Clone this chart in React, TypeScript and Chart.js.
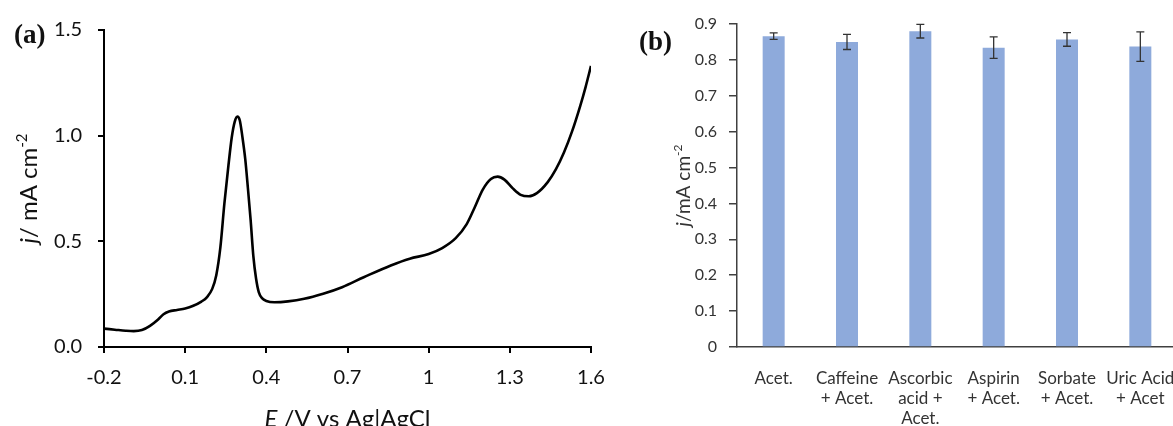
import React, { useEffect, useRef } from "react";
import { Chart, registerables } from "chart.js";

Chart.register(...registerables);

// (a) Linear sweep voltammogram: potential (V vs Ag|AgCl) and current density (mA cm-2)
const potentialV = [
  -0.2, -0.16, -0.12, -0.09, -0.06, -0.03, 0.0, 0.02, 0.04, 0.07, 0.1, 0.13, 0.16, 0.18, 0.2,
  0.215, 0.23, 0.245, 0.26, 0.272, 0.283, 0.293, 0.302, 0.312, 0.322, 0.332, 0.342, 0.352,
  0.362, 0.372, 0.385, 0.4, 0.43, 0.48, 0.54, 0.61, 0.68, 0.76, 0.86, 0.93, 1.0, 1.05, 1.1,
  1.14, 1.17, 1.2, 1.23, 1.255, 1.28, 1.31, 1.34, 1.37, 1.4, 1.44, 1.47, 1.5, 1.53, 1.56, 1.58, 1.6,
];
const currentDensity = [
  0.087, 0.082, 0.077, 0.075, 0.08, 0.1, 0.13, 0.155, 0.168, 0.175, 0.182, 0.195, 0.215, 0.235, 0.275,
  0.34, 0.47, 0.68, 0.86, 0.99, 1.065, 1.09, 1.072, 0.99, 0.89, 0.75, 0.6, 0.43,
  0.324, 0.26, 0.23, 0.218, 0.212, 0.216, 0.228, 0.252, 0.283, 0.33, 0.386, 0.418, 0.44, 0.468, 0.515,
  0.58, 0.66, 0.745, 0.795, 0.806, 0.792, 0.752, 0.72, 0.713, 0.728, 0.78, 0.84, 0.92, 1.02, 1.14, 1.23, 1.33,
];
const potentialTicks = [-0.2, 0.1, 0.4, 0.7, 1, 1.3, 1.6];
const currentTicks = [0, 0.5, 1.0, 1.5];

// (b) Acetaminophen peak current with interferents (mean and error)
const interferentLabels = [
  ["Acet."],
  ["Caffeine", "+ Acet."],
  ["Ascorbic", "acid +", "Acet."],
  ["Aspirin", "+ Acet."],
  ["Sorbate", "+ Acet."],
  ["Uric Acid", "+ Acet"],
];
const peakCurrent = [0.866, 0.85, 0.88, 0.834, 0.857, 0.837];
const peakCurrentError = [0.009, 0.021, 0.019, 0.03, 0.019, 0.041];
const peakTicks = [0, 0.1, 0.2, 0.3, 0.4, 0.5, 0.6, 0.7, 0.8, 0.9];

type Seg = { text: string; italic?: boolean; sup?: boolean };

const SANS = "Lato, 'Open Sans', sans-serif";
const SERIF = "'Liberation Serif', 'DejaVu Serif', serif";

// Draws a run of text segments (italic / superscript aware), centred on (x, y).
function drawRich(
  ctx: CanvasRenderingContext2D,
  segs: Seg[],
  x: number,
  y: number,
  size: number,
  color: string,
  rotation: number
) {
  ctx.save();
  ctx.translate(x, y);
  ctx.rotate(rotation);
  ctx.fillStyle = color;
  ctx.textBaseline = "alphabetic";
  ctx.textAlign = "left";
  const fontFor = (s: Seg) =>
    `${s.italic ? "italic " : ""}${s.sup ? Math.round(size * 0.62) : size}px ${SANS}`;
  let total = 0;
  const widths = segs.map((s) => {
    ctx.font = fontFor(s);
    const w = ctx.measureText(s.text).width;
    total += w;
    return w;
  });
  let cx = -total / 2;
  const base = size * 0.36;
  segs.forEach((s, i) => {
    ctx.font = fontFor(s);
    ctx.fillText(s.text, cx, s.sup ? base - size * 0.42 : base);
    cx += widths[i];
  });
  ctx.restore();
}

function drawPanelTag(ctx: CanvasRenderingContext2D, tag: string, left: number, cy: number) {
  ctx.save();
  ctx.font = `bold 27px ${SERIF}`;
  ctx.fillStyle = "#111";
  ctx.textAlign = "left";
  ctx.textBaseline = "middle";
  ctx.fillText(tag, left, cy);
  ctx.restore();
}

function VoltammogramPanel() {
  const ref = useRef<HTMLCanvasElement>(null);
  useEffect(() => {
    const points = potentialV.map((e, i) => ({ x: e, y: currentDensity[i] }));
    const chart = new Chart(ref.current as HTMLCanvasElement, {
      type: "line",
      data: {
        datasets: [
          {
            data: points,
            borderColor: "#000",
            borderWidth: 2.6,
            pointRadius: 0,
            cubicInterpolationMode: "monotone",
            fill: false,
          },
        ],
      },
      options: {
        responsive: false,
        animation: false,
        layout: { padding: { top: 30, right: 34, left: 0, bottom: 0 } },
        plugins: { legend: { display: false }, tooltip: { enabled: false } },
        scales: {
          x: {
            type: "linear",
            min: -0.2,
            max: 1.6,
            afterBuildTicks: (s: any) => {
              s.ticks = potentialTicks.map((v) => ({ value: v }));
            },
            afterFit: (s: any) => {
              s.height = 79;
            },
            ticks: {
              color: "#111",
              font: { family: SANS, size: 20 },
              padding: 13,
              maxRotation: 0,
              callback: (v: any) => String(v),
            },
            grid: { drawOnChartArea: false, tickLength: 6, color: "#000", lineWidth: 2 },
            border: { color: "#000", width: 2 },
          },
          y: {
            type: "linear",
            min: 0,
            max: 1.5,
            afterBuildTicks: (s: any) => {
              s.ticks = currentTicks.map((v) => ({ value: v }));
            },
            afterFit: (s: any) => {
              s.width = 104;
            },
            ticks: {
              color: "#111",
              font: { family: SANS, size: 20 },
              padding: 16,
              callback: (v: any) => Number(v).toFixed(1),
            },
            grid: { drawOnChartArea: false, tickLength: 6, color: "#000", lineWidth: 2 },
            border: { color: "#000", width: 2 },
          },
        },
      },
      plugins: [
        {
          id: "voltammogramTexts",
          afterDraw(c: any) {
            const ctx = c.ctx as CanvasRenderingContext2D;
            const area = c.chartArea;
            drawRich(
              ctx,
              [{ text: "E", italic: true }, { text: " /V vs Ag|AgCl" }],
              (area.left + area.right) / 2,
              418,
              24,
              "#111",
              0
            );
            drawRich(
              ctx,
              [{ text: "j", italic: true }, { text: "/ mA cm" }, { text: "-2", sup: true }],
              28,
              (area.top + area.bottom) / 2,
              24,
              "#111",
              -Math.PI / 2
            );
            drawPanelTag(ctx, "(a)", 14, 36);
          },
        },
      ],
    } as any);
    return () => chart.destroy();
  }, []);
  return (
    <canvas
      ref={ref}
      width={625}
      height={426}
      style={{ position: "absolute", left: 0, top: 0, width: 625, height: 426 }}
    />
  );
}

function InterferencePanel() {
  const ref = useRef<HTMLCanvasElement>(null);
  useEffect(() => {
    const chart = new Chart(ref.current as HTMLCanvasElement, {
      type: "bar",
      data: {
        labels: interferentLabels,
        datasets: [
          {
            data: peakCurrent,
            backgroundColor: "#8eaadb",
            barPercentage: 0.3,
            categoryPercentage: 1,
          },
        ],
      },
      options: {
        responsive: false,
        animation: false,
        layout: { padding: { top: 24, right: 13, left: 0, bottom: 0 } },
        plugins: { legend: { display: false }, tooltip: { enabled: false } },
        scales: {
          x: {
            afterFit: (s: any) => {
              s.height = 79;
            },
            ticks: {
              color: "#333",
              font: { family: SANS, size: 17 },
              padding: 13,
              maxRotation: 0,
              autoSkip: false,
            },
            grid: { display: false },
            border: { color: "#404040", width: 1.5 },
          },
          y: {
            min: 0,
            max: 0.9,
            afterBuildTicks: (s: any) => {
              s.ticks = peakTicks.map((v) => ({ value: v }));
            },
            afterFit: (s: any) => {
              s.width = 112;
            },
            ticks: {
              color: "#333",
              font: { family: SANS, size: 16 },
              padding: 12,
              callback: (v: any) => String(v),
            },
            grid: { drawOnChartArea: false, tickLength: 8, color: "#404040", lineWidth: 1.5 },
            border: { color: "#404040", width: 1.5 },
          },
        },
      },
      plugins: [
        {
          id: "errorBars",
          afterDatasetsDraw(c: any) {
            const ctx = c.ctx as CanvasRenderingContext2D;
            const meta = c.getDatasetMeta(0);
            const yScale = c.scales.y;
            ctx.save();
            ctx.strokeStyle = "#333";
            ctx.lineWidth = 1.3;
            meta.data.forEach((el: any, i: number) => {
              const hi = yScale.getPixelForValue(peakCurrent[i] + peakCurrentError[i]);
              const lo = yScale.getPixelForValue(peakCurrent[i] - peakCurrentError[i]);
              const cap = 4;
              ctx.beginPath();
              ctx.moveTo(el.x, hi);
              ctx.lineTo(el.x, lo);
              ctx.moveTo(el.x - cap, hi);
              ctx.lineTo(el.x + cap, hi);
              ctx.moveTo(el.x - cap, lo);
              ctx.lineTo(el.x + cap, lo);
              ctx.stroke();
            });
            ctx.restore();
          },
        },
        {
          id: "interferenceTexts",
          afterDraw(c: any) {
            const ctx = c.ctx as CanvasRenderingContext2D;
            const area = c.chartArea;
            drawRich(
              ctx,
              [{ text: "j", italic: true }, { text: "/mA cm" }, { text: "-2", sup: true }],
              58,
              (area.top + area.bottom) / 2,
              19,
              "#333",
              -Math.PI / 2
            );
            drawPanelTag(ctx, "(b)", 14, 43);
          },
        },
      ],
    } as any);
    return () => chart.destroy();
  }, []);
  return (
    <canvas
      ref={ref}
      width={565}
      height={426}
      style={{ position: "absolute", left: 625, top: 0, width: 565, height: 426 }}
    />
  );
}

export default function App() {
  return (
    <div
      style={{
        position: "fixed",
        left: 0,
        top: 0,
        width: 1173,
        height: 426,
        overflow: "hidden",
        background: "#fff",
      }}
    >
      <VoltammogramPanel />
      <InterferencePanel />
    </div>
  );
}
